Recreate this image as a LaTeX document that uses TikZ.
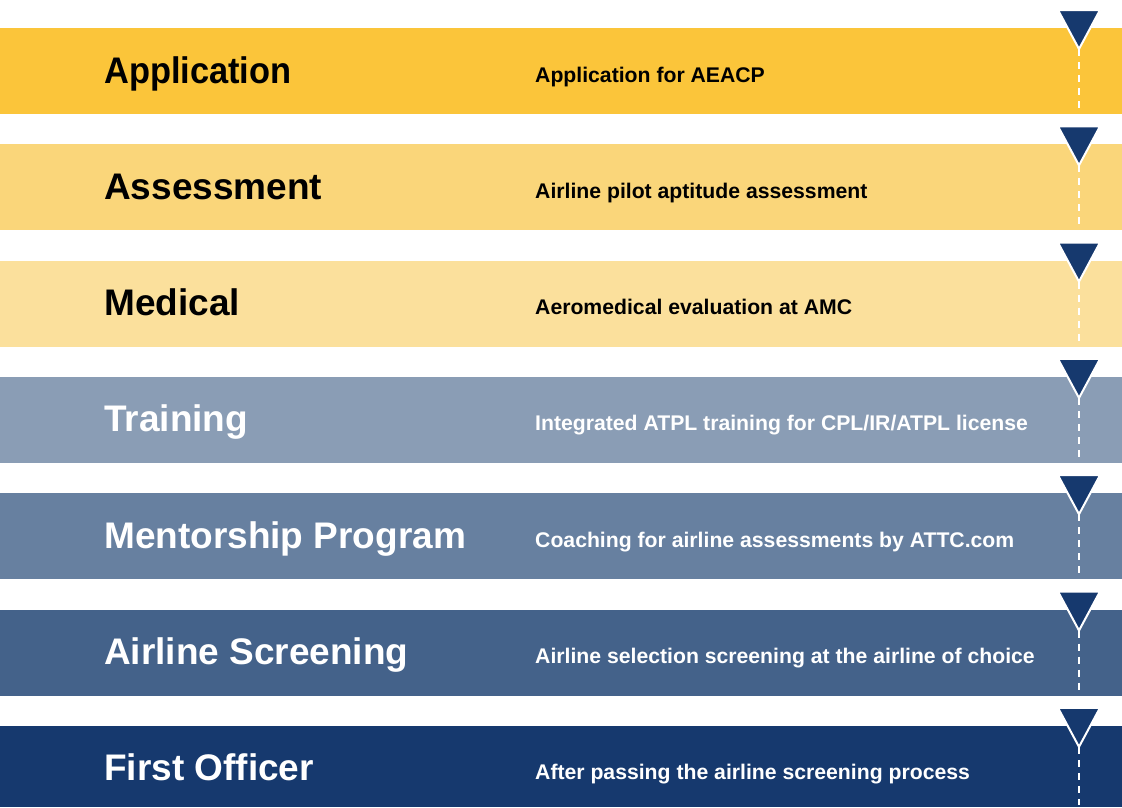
\documentclass[tikz,border=0pt]{standalone}
\usepackage{fontspec}
\setmainfont{Liberation Sans}
\usepackage{xcolor}

\definecolor{stepA}{RGB}{251,197,58}
\definecolor{stepB}{RGB}{250,214,122}
\definecolor{stepC}{RGB}{251,224,156}
\definecolor{stepD}{RGB}{138,157,181}
\definecolor{stepE}{RGB}{103,128,160}
\definecolor{stepF}{RGB}{68,98,138}
\definecolor{stepG}{RGB}{22,57,110}
\definecolor{marker}{RGB}{22,57,110}

\tikzset{
    title/.style={anchor=base west,inner sep=0pt,font=\fontsize{37}{40}\selectfont\bfseries},
    descr/.style={anchor=base west,inner sep=0pt,font=\fontsize{21.2}{24}\selectfont\bfseries},
    track/.style={white,line width=2pt,dash pattern=on 7pt off 6pt}
}

\begin{document}
\begin{tikzpicture}[x=1pt,y=-1pt]
    \useasboundingbox[fill=white] (0,0) rectangle (1122,807);
    % bars and labels
    \foreach \i/\col/\tc/\head/\txt in {
        1/stepA/black/{\scalebox{0.93}[1]{Application}}/Application for AEACP,
        2/stepB/black/Assessment/Airline pilot aptitude assessment,
        3/stepC/black/Medical/Aeromedical evaluation at AMC,
        4/stepD/white/Training/{Integrated ATPL training for CPL/IR/ATPL license},
        5/stepE/white/Mentorship Program/Coaching for airline assessments by ATTC.com,
        6/stepF/white/Airline Screening/Airline selection screening at the airline of choice,
        7/stepG/white/First Officer/After passing the airline screening process} {
        \pgfmathsetmacro{\top}{28+116.3*(\i-1)}
        \pgfmathsetmacro{\bot}{min(\top+86,807)}
        \fill[\col] (0,\top) rectangle (1122,\bot);
        \node[title,text=\tc] (title\i) at (104,\top+55) {\head};
        \node[descr,text=\tc] (desc\i) at (535,\top+54) {\txt};
        % marker
        \coordinate (tip\i) at (1079,\top+21);
        \coordinate (end\i) at (1079,\bot-2);
        \draw[track] (tip\i) -- (end\i);
        \filldraw[fill=marker,draw=white,line width=2pt,line join=miter]
            (1058,\top-18) -- (1100,\top-18) -- (tip\i) -- cycle;
    }
\end{tikzpicture}
\end{document}
